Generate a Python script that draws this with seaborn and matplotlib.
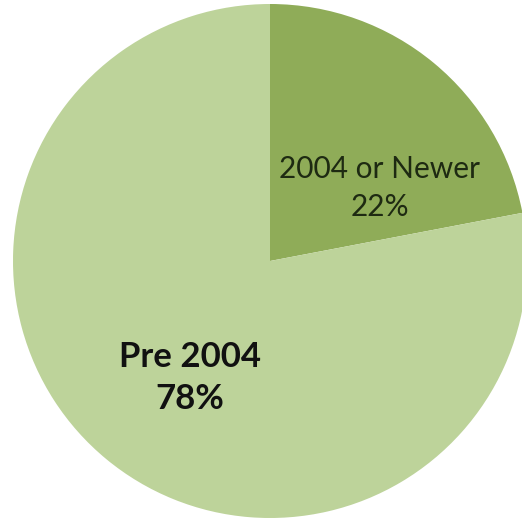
import matplotlib
matplotlib.use("Agg")
import matplotlib.pyplot as plt
import seaborn as sns

# data
categories = ["2004 or Newer", "Pre 2004"]
shares = [22, 78]
colors = ["#8fac58", "#bdd39a"]

sns.set_theme(style="white")
plt.rcParams['font.family'] = ['Lato', 'DejaVu Sans']

fig = plt.figure(figsize=(5.22, 5.20), dpi=100)
ax = fig.add_axes([0, 0, 1, 1])

ax.pie(shares, colors=colors, startangle=90, counterclock=False,
       radius=1.0, center=(0, 0), wedgeprops={'linewidth': 0})

ax.set_xlim(-270 / 257, 252 / 257)
ax.set_ylim(-259 / 257, 261 / 257)
ax.set_aspect('auto')
ax.axis('off')

# labels
ax.text(0.428, 0.284, f"{categories[0]}\n{shares[0]}%", ha='center', va='center',
        fontsize=21.5, color='#1e2a12', linespacing=1.4)
ax.text(-0.311, -0.455, f"{categories[1]}\n{shares[1]}%", ha='center', va='center',
        fontsize=25, fontweight='bold', color='#111111', linespacing=1.4)

plt.savefig("out.png", dpi=100)
plt.close()
